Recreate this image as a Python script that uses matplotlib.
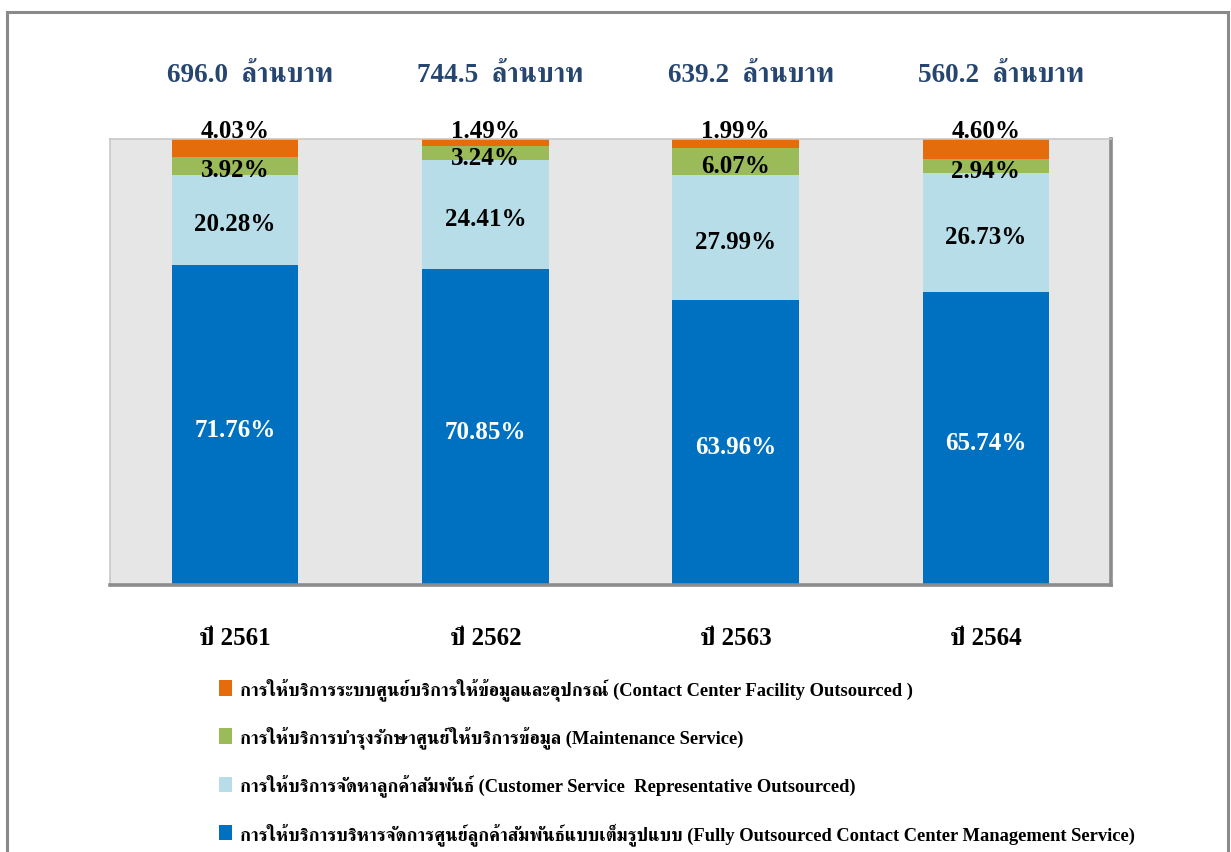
import matplotlib
matplotlib.use("Agg")
import matplotlib.pyplot as plt
from matplotlib.patches import Rectangle, Patch

plt.rcParams["font.family"] = ["Liberation Serif", "FreeSerif"]
plt.rcParams["font.weight"] = "bold"

YEARS = ["ปี 2561", "ปี 2562", "ปี 2563", "ปี 2564"]
TOTALS = ["696.0", "744.5", "639.2", "560.2"]
FULLY = [71.76, 70.85, 63.96, 65.74]
CSR = [20.28, 24.41, 27.99, 26.73]
MAINT = [3.92, 3.24, 6.07, 2.94]
FACILITY = [4.03, 1.49, 1.99, 4.60]

LEGEND_LABELS = [
    "การให้บริการระบบศูนย์บริการให้ข้อมูลและอุปกรณ์ (Contact Center Facility Outsourced )",
    "การให้บริการบำรุงรักษาศูนย์ให้บริการข้อมูล (Maintenance Service)",
    "การให้บริการจัดหาลูกค้าสัมพันธ์ (Customer Service  Representative Outsourced)",
    "การให้บริการบริหารจัดการศูนย์ลูกค้าสัมพันธ์แบบเต็มรูปแบบ (Fully Outsourced Contact Center Management Service)",
]
C_FULLY = "#0070C0"
C_CSR = "#B7DEE8"
C_MAINT = "#9BBB59"
C_FAC = "#E46C0A"
NAVY = "#264670"

fig = plt.figure(figsize=(12.31, 8.53), dpi=100)
fig.patches.append(Rectangle((7 / 1231, -0.05), 1221 / 1231, 1 - 13 / 853 + 0.05,
                             transform=fig.transFigure, fill=False,
                             edgecolor="#8a8a8a", lw=2.2))

ax = fig.add_axes([110 / 1231, 1 - 586 / 853, 1001 / 1231, 446 / 853])
ax.set_facecolor("#E6E6E6")
for s in ("top", "left"):
    ax.spines[s].set_color("#c8c8c8")
    ax.spines[s].set_linewidth(1.2)
for s in ("bottom", "right"):
    ax.spines[s].set_color("#8c8c8c")
    ax.spines[s].set_linewidth(2.6)

x = range(len(YEARS))
w = 0.505
bottom = [0.0] * 4
segments = [(FULLY, C_FULLY), (CSR, C_CSR), (MAINT, C_MAINT), (FACILITY, C_FAC)]
for vals, col in segments:
    ax.bar(x, vals, w, bottom=bottom, color=col, edgecolor="none")
    bottom = [b + v for b, v in zip(bottom, vals)]


def label(xv, yv, txt, color="black", fs=18, dx=0, dy=-3):
    ax.annotate(txt, (xv, yv), xytext=(dx, dy), textcoords="offset points",
                ha="center", va="center", color=color, fontsize=fs,
                annotation_clip=False)


for i in x:
    b0 = 0
    label(i, b0 + FULLY[i] / 2, f"{FULLY[i]:.2f}%", color="white")
    b0 += FULLY[i]
    label(i, b0 + CSR[i] / 2, f"{CSR[i]:.2f}%")
    b0 += CSR[i]
    label(i, b0 + MAINT[i] / 2, f"{MAINT[i]:.2f}%")
    label(i, 102.8, f"{FACILITY[i]:.2f}%")
    label(i, 114.4, f"{TOTALS[i]}  ล้านบาท", color=NAVY, fs=19.5, dx=11, dy=0)

ax.set_xlim(-0.5, 3.5)
ax.set_ylim(0, 100)
ax.set_yticks([])
ax.set_xticks(list(x))
ax.set_xticklabels(YEARS, fontsize=18)
ax.tick_params(axis="x", length=0, pad=29.5)

handles = [Patch(facecolor=C_FAC), Patch(facecolor=C_MAINT),
           Patch(facecolor=C_CSR), Patch(facecolor=C_FULLY)]
fig.legend(handles, LEGEND_LABELS, loc="upper left",
           bbox_to_anchor=(212 / 1231, 1 - 671 / 853), frameon=False,
           fontsize=13.3, handlelength=0.7, handleheight=0.92, handletextpad=0.4,
           labelspacing=1.37, borderaxespad=0)

fig.savefig("out.png", dpi=100)
